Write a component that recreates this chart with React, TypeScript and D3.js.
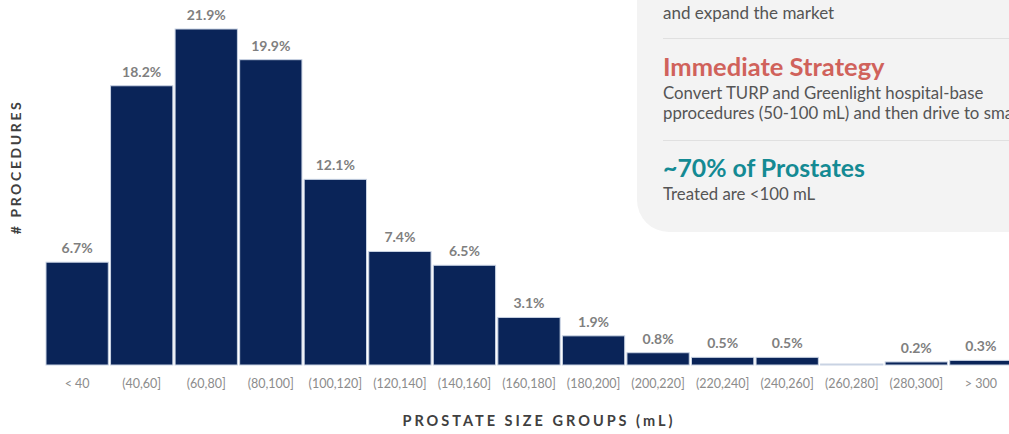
import React from "react";
import * as d3 from "d3";

const categories = ["< 40", "(40,60]", "(60,80]", "(80,100]", "(100,120]", "(120,140]", "(140,160]", "(160,180]", "(180,200]", "(200,220]", "(220,240]", "(240,260]", "(260,280]", "(280,300]", "> 300"];
const values = [6.7, 18.2, 21.9, 19.9, 12.1, 7.4, 6.5, 3.1, 1.9, 0.8, 0.5, 0.5, 0.0, 0.2, 0.3];
const valueLabels = ["6.7%", "18.2%", "21.9%", "19.9%", "12.1%", "7.4%", "6.5%", "3.1%", "1.9%", "0.8%", "0.5%", "0.5%", "", "0.2%", "0.3%"];

const W = 1009;
const H = 434;
const FONT = "Lato, 'Open Sans', sans-serif";

export default function App() {
  const x = d3.scaleBand<string>().domain(categories).range([46, 1012]).paddingInner(0.035).paddingOuter(0);
  const y = d3.scaleLinear().domain([0, 21.9]).range([365, 29]);

  return (
    <svg width={W} height={H} style={{ position: "absolute", left: 0, top: 0, background: "#fff" }}>
      {/* side panel */}
      <rect x={637} y={-40} width={420} height={272} rx={32} fill="#f3f3f3" />
      <text x={663} y={19} fontFamily={FONT} fontSize={17} fill="#555">and expand the market</text>
      <line x1={663} x2={1009} y1={38.5} y2={38.5} stroke="#e0e0e0" />
      <text x={663} y={76} fontFamily={FONT} fontSize={25.5} fontWeight={700} fill="#d0625b">Immediate Strategy</text>
      <text x={663} y={99} fontFamily={FONT} fontSize={16.8} fill="#555">Convert TURP and Greenlight hospital-base</text>
      <text x={663} y={119} fontFamily={FONT} fontSize={16.8} fill="#555">pprocedures (50-100 mL) and then drive to smaller</text>
      <line x1={663} x2={1009} y1={140.5} y2={140.5} stroke="#e0e0e0" />
      <text x={663} y={177} fontFamily={FONT} fontSize={24.8} fontWeight={700} fill="#148a93">~70% of Prostates</text>
      <text x={663} y={200} fontFamily={FONT} fontSize={16.8} fill="#555">Treated are &lt;100 mL</text>

      {/* bars */}
      {categories.map((c, i) => {
        const top = y(values[i]);
        const h = Math.max(365 - top, 1);
        return (
          <g key={c}>
            <rect x={x(c)} y={365 - h} width={x.bandwidth()} height={h} fill={values[i] > 0 ? "#0a2458" : "#c9d3e3"} stroke="#c9d3e3" strokeWidth={1} />
            {valueLabels[i] && (
              <text x={(x(c) as number) + x.bandwidth() / 2} y={top - 9} textAnchor="middle" fontFamily={FONT} fontSize={14} fontWeight={700} fill="#7f7f7f">
                {valueLabels[i]}
              </text>
            )}
            <text x={(x(c) as number) + x.bandwidth() / 2} y={388} textAnchor="middle" fontFamily={FONT} fontSize={12.5} fill="#8c8c8c">
              {c}
            </text>
          </g>
        );
      })}

      {/* axis titles */}
      <text x={539} y={426} textAnchor="middle" fontFamily={FONT} fontSize={14.5} fontWeight={700} letterSpacing={3} fill="#404040">
        PROSTATE SIZE GROUPS (mL)
      </text>
      <text transform="translate(21,167) rotate(-90)" textAnchor="middle" fontFamily={FONT} fontSize={14} fontWeight={700} letterSpacing={2.6} fill="#404040">
        # PROCEDURES
      </text>
    </svg>
  );
}
